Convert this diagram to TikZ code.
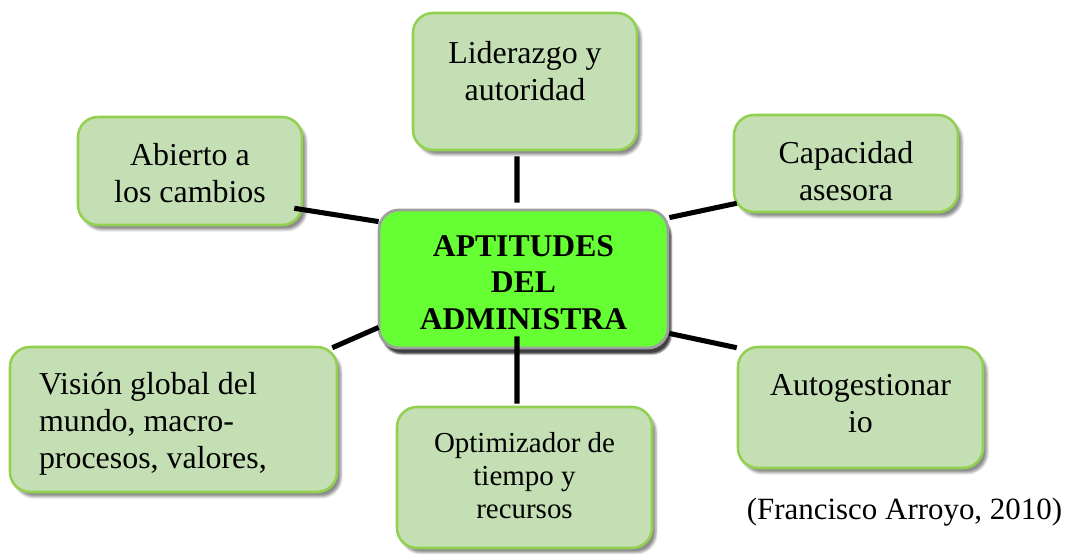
\documentclass[tikz,border=0pt]{standalone}
\usepackage{fontspec}
\setmainfont{Liberation Serif}
\usetikzlibrary{positioning}
\usetikzlibrary{shadows.blur}
\definecolor{boxfill}{HTML}{C4DFB3}
\definecolor{boxline}{HTML}{92D050}
\definecolor{cenfill}{HTML}{66FF33}
\definecolor{cenline}{HTML}{A0A0A0}

\begin{document}
\begin{tikzpicture}[
    box/.style={draw=boxline, line width=1.8pt, fill=boxfill, rounded corners=0.5cm, inner sep=0pt,
        blur shadow={shadow xshift=0.1cm, shadow yshift=-0.12cm, shadow blur radius=0.06cm, shadow opacity=45}},
    cenbox/.style={draw=cenline, line width=2pt, fill=cenfill, rounded corners=0.5cm, inner sep=0pt,
        blur shadow={shadow xshift=0.08cm, shadow yshift=-0.15cm, shadow blur radius=0.04cm, shadow opacity=75}},
    txt/.style={font=\fontsize{22.7}{26.3}\selectfont, align=center, inner sep=0pt},
    link/.style={line width=3.6pt, black}
]
    \useasboundingbox (0,0) rectangle (26.975,13.85);

    % aptitudes
    \node[box, minimum width=5.6cm, minimum height=3.425cm] (lid) at (13.125,11.8125) {};
    \node[txt] (lidtxt) at ([yshift=0.2625cm]lid.center) {Liderazgo y\\autoridad};

    \node[box, minimum width=5.6cm, minimum height=2.425cm] (cap) at (21.15,9.7625) {};
    \node[txt] (captxt) at ([yshift=-0.1875cm]cap.center) {Capacidad\\asesora};

    \node[box, minimum width=5.6cm, minimum height=2.7cm] (abi) at (4.75,9.575) {};
    \node[txt] (abitxt) at ([yshift=-0.0625cm]abi.center) {Abierto a\\los cambios};

    \node[box, minimum width=8.175cm, minimum height=3.625cm] (vis) at (4.3375,3.3625) {};
    \node[txt, align=left, anchor=west] (vistxt) at ([xshift=0.75cm,yshift=-0.1125cm]vis.west) {Visión global del\\mundo, macro-\\procesos, valores,};

    \node[box, minimum width=6.375cm, minimum height=3.525cm] (opt) at (13.1125,1.9125) {};
    \node[txt, font=\fontsize{20.6}{23.5}\selectfont] (opttxt) at ([yshift=0.05cm]opt.center) {Optimizador de\\tiempo y\\recursos};

    \node[box, minimum width=6.125cm, minimum height=3.025cm] (aut) at (21.5125,3.6625) {};
    \node[txt] (auttxt) at ([yshift=0.0875cm]aut.center) {Autogestionar\\io};

    % centro
    \node[cenbox, minimum width=7.225cm, minimum height=3.45cm] (cen) at (13.0875,6.875) {};
    \node[txt, font=\bfseries\fontsize{22.5}{26}\selectfont] (centxt) at ([yshift=-0.0875cm]cen.center) {APTITUDES\\DEL\\ADMINISTRA};

    % lineas
    \draw[link] ([shift={(-0.2,-0.125)}]lid.south) -- ([shift={(-0.1625,0.15)}]cen.north);
    \draw[link] ([shift={(-0.1625,0.325)}]cen.south) -- ([shift={(-0.1875,0.05)}]opt.north);
    \draw[link] ([shift={(-0.225,0.45)}]abi.south east) -- ([shift={(0.025,-0.325)}]cen.north west);
    \draw[link] ([shift={(0,-0.225)}]cen.north east) -- ([shift={(0.1,0.25)}]cap.south west);
    \draw[link] ([shift={(-0.15,-0.05)}]vis.north east) -- ([shift={(0.025,0.55)}]cen.south west);
    \draw[link] ([shift={(0,0.4)}]cen.south east) -- ([shift={(0,-0.05)}]aut.north west);

    \node[txt, font=\fontsize{22}{26}\selectfont, anchor=base] (src) at (22.6125,0.85) {(Francisco Arroyo, 2010)};
\end{tikzpicture}
\end{document}
